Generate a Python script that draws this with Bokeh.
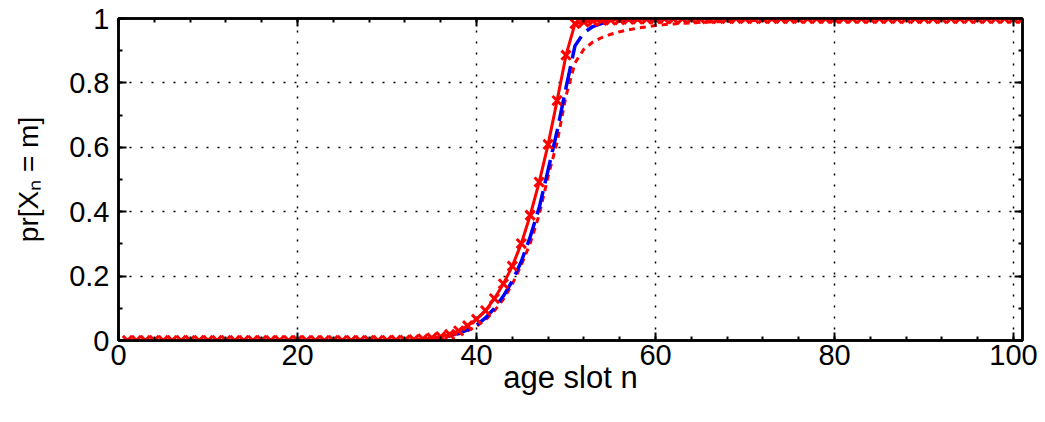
from bokeh.plotting import figure
from bokeh.models import FixedTicker, LinearAxis, Range1d
from bokeh.embed import file_html
from bokeh.resources import INLINE

# ---------------- data ----------------
age_slot = list(range(1, 102))

# red solid line with x markers
pr_solid = [0.0] * 29 + [
    0.0005, 0.001, 0.001,                               # 30-32
    0.003, 0.005, 0.008, 0.012, 0.019, 0.030, 0.046,    # 33-39
    0.066, 0.093, 0.130, 0.176, 0.231, 0.301, 0.389,    # 40-46
    0.492, 0.609, 0.745, 0.886, 0.984, 0.989, 0.992,    # 47-53
    0.994, 0.995, 0.996, 0.997, 0.998, 0.998, 0.999,    # 54-60
] + [0.999] * 5 + [1.0] * 36

# blue dashed line
pr_dashed = [0.0] * 32 + [
    0.002, 0.004, 0.007, 0.010, 0.015, 0.022, 0.033,    # 33-39
    0.048, 0.070, 0.100, 0.138, 0.185, 0.245, 0.322,    # 40-46
    0.412, 0.530, 0.650, 0.785, 0.915, 0.956, 0.975,    # 47-53
    0.985, 0.990, 0.993, 0.995, 0.996, 0.997, 0.998,    # 54-60
] + [0.999] * 5 + [1.0] * 36

# red dotted line
pr_dotted = [0.0] * 32 + [
    0.002, 0.004, 0.006, 0.009, 0.014, 0.020, 0.030,    # 33-39
    0.044, 0.064, 0.092, 0.128, 0.175, 0.234, 0.302,    # 40-46
    0.390, 0.510, 0.615, 0.760, 0.862, 0.905, 0.927,    # 47-53
    0.941, 0.951, 0.959, 0.965, 0.970, 0.974, 0.978,    # 54-60
    0.981, 0.983, 0.985, 0.986, 0.988, 0.989, 0.990,    # 61-67
    0.991, 0.992, 0.993, 0.994, 0.994, 0.995, 0.995,    # 68-74
    0.996, 0.996, 0.997, 0.997, 0.997, 0.998, 0.998,    # 75-81
    0.998, 0.998, 0.999, 0.999, 0.999, 0.999, 0.999,    # 82-88
    0.999,                                              # 89
] + [1.0] * 12

x_ticks = [0, 20, 40, 60, 80, 100]
x_tick_labels = ["0", "20", "40", "60", "80", "100"]
x_minor = [v for v in range(0, 101, 4)]
y_ticks = [0, 0.2, 0.4, 0.6, 0.8, 1.0]
y_tick_labels = ["0", "0.2", "0.4", "0.6", "0.8", "1"]
y_minor = [round(0.1 * i, 1) for i in range(0, 11)]

x_label = "age slot n"
y_label = "pr[X\u2099 = m]"

# ---------------- figure ----------------
FONT = "Liberation Sans"
p = figure(width=1045, height=422,
           x_range=Range1d(0, 101), y_range=Range1d(0, 1),
           output_backend="svg", toolbar_location=None,
           min_border_left=118, min_border_right=23,
           min_border_top=18, min_border_bottom=82)
p.background_fill_color = "white"
p.border_fill_color = "white"
p.outline_line_color = "black"
p.outline_line_width = 2.5

xt = FixedTicker(ticks=x_ticks, minor_ticks=x_minor)
yt = FixedTicker(ticks=y_ticks, minor_ticks=y_minor)


def style_axis(ax, show_labels):
    ax.axis_line_color = "black"
    ax.axis_line_width = 2.5
    ax.major_tick_line_color = "black"
    ax.major_tick_line_width = 2
    ax.minor_tick_line_color = "black"
    ax.minor_tick_line_width = 2
    ax.major_tick_in = 8
    ax.major_tick_out = 0
    ax.minor_tick_in = 4
    ax.minor_tick_out = 0
    if show_labels:
        ax.major_label_text_font = FONT
        ax.major_label_text_font_size = "29px"
        ax.major_label_text_color = "black"
        ax.axis_label_text_font = FONT
        ax.axis_label_text_font_style = "normal"
        ax.axis_label_text_color = "black"
    else:
        ax.major_label_text_font_size = "1px"
        ax.major_label_text_color = None
        ax.major_label_standoff = 0


for ax in p.xaxis:
    ax.ticker = xt
    ax.major_label_overrides = dict(zip(x_ticks, x_tick_labels))
    ax.axis_label = x_label
    style_axis(ax, True)
    ax.axis_label_text_font_size = "31px"
    ax.major_label_standoff = 4
    ax.axis_label_standoff = -8
for ax in p.yaxis:
    ax.ticker = yt
    ax.major_label_overrides = dict(zip(y_ticks, y_tick_labels))
    ax.axis_label = y_label
    style_axis(ax, True)
    ax.axis_label_text_font_size = "28px"
    ax.major_label_standoff = 9
    ax.axis_label_standoff = 22

top_ax = LinearAxis(ticker=xt)
right_ax = LinearAxis(ticker=yt)
style_axis(top_ax, False)
style_axis(right_ax, False)
p.add_layout(top_ax, "above")
p.add_layout(right_ax, "right")

p.xgrid.ticker = FixedTicker(ticks=x_ticks)
p.ygrid.ticker = FixedTicker(ticks=y_ticks)
for g in (p.xgrid, p.ygrid):
    g.grid_line_color = "black"
    g.grid_line_width = 1.5
    g.grid_line_dash = "2 9"

# ---------------- series ----------------
p.line(age_slot, pr_dotted, line_color="#ff0000", line_width=3, line_dash="6 5")
p.line(age_slot, pr_dashed, line_color="#0000ff", line_width=3.5, line_dash="24 8")
p.line(age_slot, pr_solid, line_color="#ff0000", line_width=3)
p.scatter(age_slot, pr_solid, marker="x", size=13, line_color="#ff0000", line_width=3)

open("out.html", "w").write(file_html(p, INLINE))
